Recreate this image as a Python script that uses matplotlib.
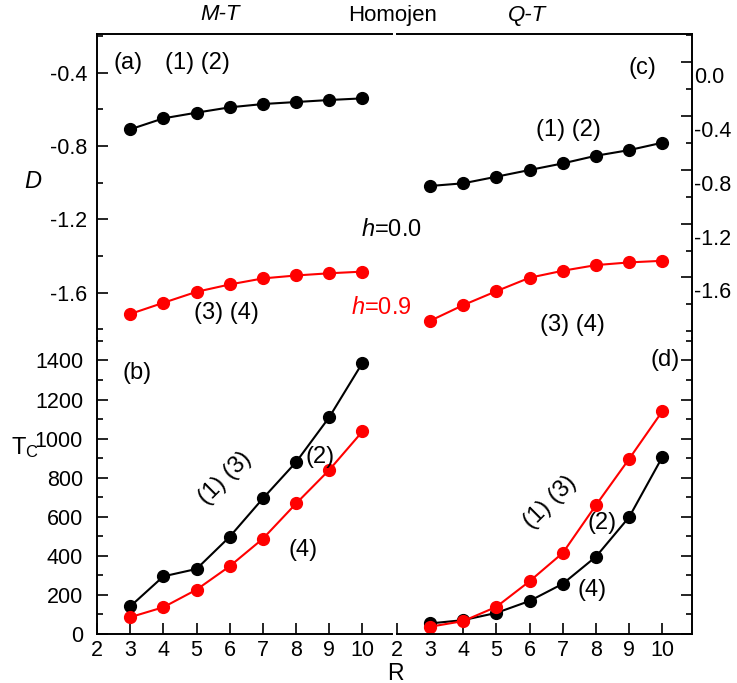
import matplotlib
matplotlib.use("Agg")
import matplotlib.pyplot as plt
import matplotlib.transforms as mtransforms
from matplotlib.ticker import MultipleLocator

plt.rcParams['font.family'] = ['Liberation Sans', 'DejaVu Sans']
plt.rcParams['mathtext.fontset'] = 'custom'
plt.rcParams['mathtext.rm'] = 'Liberation Sans'
plt.rcParams['mathtext.it'] = 'Liberation Sans:italic'

R = [3, 4, 5, 6, 7, 8, 9, 10]

# D values (top panels)
D_mt_h00 = [-0.709, -0.649, -0.618, -0.589, -0.571, -0.560, -0.549, -0.540]
D_mt_h09 = [-1.716, -1.655, -1.595, -1.555, -1.522, -1.506, -1.494, -1.485]
D_qt_h00 = [-0.920, -0.900, -0.851, -0.801, -0.752, -0.695, -0.653, -0.598]
D_qt_h09 = [-1.923, -1.806, -1.702, -1.602, -1.550, -1.508, -1.488, -1.476]

# Tc values (bottom panels)
Tc_mt_h00 = [141, 295, 333, 498, 694, 880, 1110, 1388]
Tc_mt_h09 = [86, 137, 227, 347, 488, 668, 840, 1037]
Tc_qt_h00 = [54, 71, 108, 169, 257, 396, 599, 907]
Tc_qt_h09 = [37, 66, 139, 270, 415, 660, 897, 1141]

W, H = 737, 683
fig = plt.figure(figsize=(W / 100, H / 100), dpi=100)


def px_axes(x0, y0, x1, y1):
    return fig.add_axes([x0 / W, 1 - y1 / H, (x1 - x0) / W, (y1 - y0) / H])


ax_a = px_axes(97, 34, 391.7, 338)
ax_c = px_axes(396.7, 34, 691.7, 338)
ax_b = px_axes(97, 338, 391.7, 634)
ax_d = px_axes(396.7, 338, 691.7, 634)

ms = 8.5
lw = 1.5
for ax, y0, y1 in [(ax_a, D_mt_h00, D_mt_h09), (ax_c, D_qt_h00, D_qt_h09)]:
    ax.plot(R, y0, color='black', marker='o', ms=ms, lw=lw)
    ax.plot(R, y1, color='red', marker='o', ms=ms, lw=lw)
ax_b.plot(R, Tc_mt_h00, color='black', marker='o', ms=ms, lw=lw)
ax_b.plot(R, Tc_mt_h09, color='red', marker='o', ms=ms, lw=lw)
ax_d.plot(R, Tc_qt_h00, color='black', marker='o', ms=ms, lw=lw)
ax_d.plot(R, Tc_qt_h09, color='red', marker='o', ms=ms, lw=lw)

for ax in (ax_a, ax_b, ax_c, ax_d):
    ax.set_xlim(2, 10.88)
    ax.patch.set_alpha(0)
    for s in ax.spines.values():
        s.set_linewidth(1.4)
    ax.tick_params(which='both', direction='in', labelsize=15.5, width=1.2)
    ax.tick_params(which='major', length=8)
    ax.tick_params(which='minor', length=4.5)

# top left
ax_a.set_ylim(-1.847, -0.189)
ax_a.spines['right'].set_visible(False)
ax_a.spines['bottom'].set_visible(False)
ax_a.set_xticks([])
ax_a.set_yticks([-0.4, -0.8, -1.2, -1.6])
ax_a.set_yticklabels(['-0.4', '-0.8', '-1.2', '-1.6'])
ax_a.yaxis.set_minor_locator(MultipleLocator(0.2))
ax_a.tick_params(axis='y', pad=7)

# top right
ax_c.set_ylim(-2.05, 0.21)
ax_c.spines['left'].set_visible(False)
ax_c.spines['bottom'].set_visible(False)
ax_c.set_xticks([])
ax_c.yaxis.tick_right()
ax_c.set_yticks([0.0, -0.4, -0.8, -1.2, -1.6])
ax_c.set_yticklabels(['0.0', '-0.4', '-0.8', '-1.2', '-1.6'])
ax_c.yaxis.set_minor_locator(MultipleLocator(0.2))
ax_c.tick_params(axis='y', which='both', right=True, left=False, pad=2)
off = mtransforms.ScaledTranslation(0, -0.13, fig.dpi_scale_trans)
for lab in ax_c.get_yticklabels():
    lab.set_transform(lab.get_transform() + off)

# bottom left
ax_b.set_ylim(0, 1515)
ax_b.spines['right'].set_visible(False)
ax_b.spines['top'].set_visible(False)
ax_b.set_xticks(range(2, 11))
ax_b.set_yticks(range(0, 1401, 200))
ax_b.yaxis.set_minor_locator(MultipleLocator(100))
ax_b.tick_params(axis='y', pad=10)
ax_b.tick_params(axis='x', pad=4)

# bottom right
ax_d.set_ylim(0, 1515)
ax_d.spines['left'].set_visible(False)
ax_d.spines['top'].set_visible(False)
ax_d.set_xticks(range(2, 11))
ax_d.yaxis.tick_right()
ax_d.set_yticks(range(0, 1401, 200))
ax_d.yaxis.set_minor_locator(MultipleLocator(100))
ax_d.tick_params(axis='y', which='both', right=True, left=False, labelright=False)
ax_d.tick_params(axis='x', pad=4)


def ftext(px, py, s, **kw):
    kw.setdefault('fontsize', 17)
    fig.text(px / W, 1 - py / H, s, ha='center', va='center', **kw)


ftext(220, 15, 'M-T', style='italic', fontsize=16)
ftext(393, 15, 'Homojen', fontsize=16)
ftext(527, 15, 'Q-T', style='italic', fontsize=16)
ftext(128, 63, '(a)')
ftext(197, 63, '(1) (2)')
ftext(33, 182, 'D', style='italic')
ftext(391, 230, r'$h$=0.0')
ftext(381, 308, r'$h$=0.9', color='red')
ftext(226, 313, '(3) (4)')
ftext(642, 68, '(c)')
ftext(568, 130, '(1) (2)')
ftext(572, 325, '(3) (4)')
ftext(137, 373, '(b)')
ftext(25, 448, r'T$_\mathregular{C}$')
ftext(225, 478, '(1) (3)', rotation=45)
ftext(320, 457, '(2)')
ftext(303, 550, '(4)')
ftext(665, 360, '(d)')
ftext(550, 502, '(1) (3)', rotation=45)
ftext(602, 523, '(2)')
ftext(592, 590, '(4)')
ftext(395, 673, 'R', fontsize=16.5)

fig.savefig('out.png', dpi=100)
